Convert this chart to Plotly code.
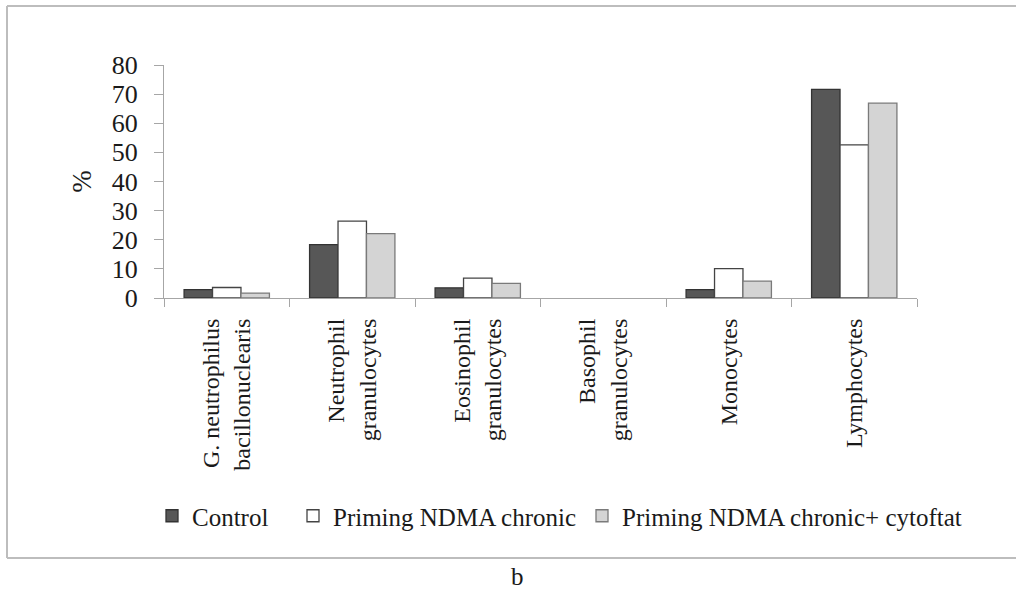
import plotly.graph_objects as go

categories = [
    "G. neutrophilus<br>bacillonuclearis",
    "Neutrophil<br>granulocytes",
    "Eosinophil<br>granulocytes",
    "Basophil<br>granulocytes",
    "Monocytes",
    "Lymphocytes",
]
series_names = ["Control", "Priming NDMA chronic", "Priming NDMA chronic+ cytoftat"]
control = [2.9, 18.3, 3.5, 0, 2.9, 71.6]
ndma_chronic = [3.6, 26.4, 6.8, 0, 10.1, 52.6]
ndma_cytoftat = [1.7, 22.1, 5.0, 0, 5.8, 66.9]
y_ticks = [0, 10, 20, 30, 40, 50, 60, 70, 80]

fills = ["#575757", "#ffffff", "#d4d4d4"]
edges = ["#333333", "#444444", "#7a7a7a"]
legend_ids = ["legend", "legend2", "legend3"]

W, H = 1016, 592
L, T, PW, PH = 164, 65, 753, 233
R, B = W - L - PW, H - T - PH


def px_x(px):
    return (px - L) / PW


def px_y(py):
    return 1 - (py - T) / PH


fig = go.Figure()
for name, vals, fc, ec, lg in zip(series_names, [control, ndma_chronic, ndma_cytoftat],
                                  fills, edges, legend_ids):
    fig.add_trace(go.Bar(
        x=categories, y=vals, name=name, legend=lg,
        marker=dict(color=fc, line=dict(color=ec, width=[1.3 if v > 0 else 0 for v in vals])),
    ))

serif = "Liberation Serif"
leg_font = dict(family=serif, size=25, color="#1a1a1a")
leg_common = dict(orientation="h", xanchor="left", yanchor="middle", y=px_y(516),
                  font=leg_font, itemwidth=30, itemclick=False, bgcolor="rgba(0,0,0,0)")

fig.update_layout(
    width=W, height=H,
    margin=dict(l=L, r=R, t=T, b=B),
    paper_bgcolor="white", plot_bgcolor="white",
    barmode="group", bargap=0.32, bargroupgap=0,
    font=dict(family=serif, color="#1a1a1a"),
    showlegend=True,
    legend=dict(x=px_x(152), **leg_common),
    legend2=dict(x=px_x(293), **leg_common),
    legend3=dict(x=px_x(582), **leg_common),
    xaxis=dict(
        showline=True, linecolor="#a6a6a6", linewidth=1.2,
        ticks="outside", tickson="boundaries", ticklen=8, tickcolor="#a6a6a6",
        tickangle=-90, tickfont=dict(family=serif, size=24, color="#1a1a1a"),
        ticklabelstandoff=10, showgrid=False,
    ),
    yaxis=dict(
        range=[0, 80], tickvals=y_ticks, showline=True, linecolor="#a6a6a6", linewidth=1.2,
        ticks="outside", ticklen=9, tickcolor="#a6a6a6",
        tickfont=dict(family=serif, size=26, color="#1a1a1a"),
        ticklabelstandoff=11,
        showgrid=False, zeroline=False,
        title=dict(text="%", font=dict(family=serif, size=27, color="#1a1a1a"), standoff=12),
    ),
)

# outer frame of the figure panel (left, top, bottom edges; right edge lies off-page)
frame = dict(xref="paper", yref="paper", line=dict(color="#bdbdbd", width=2), layer="below")
x_left, x_right = px_x(7), px_x(W + 10)
y_top, y_bot = px_y(6), px_y(558)
fig.add_shape(type="line", x0=x_left, x1=x_right, y0=y_top, y1=y_top, **frame)
fig.add_shape(type="line", x0=x_left, x1=x_left, y0=y_top, y1=y_bot, **frame)
fig.add_shape(type="line", x0=x_left, x1=x_right, y0=y_bot, y1=y_bot, **frame)

fig.add_annotation(text="b", xref="paper", yref="paper",
                   x=px_x(517), y=px_y(576), xanchor="center", yanchor="middle",
                   showarrow=False,
                   font=dict(family=serif, size=25, color="#1a1a1a"))

fig.write_html("out.html", config={"displayModeBar": False},
               post_script="document.body.style.margin='0';")
